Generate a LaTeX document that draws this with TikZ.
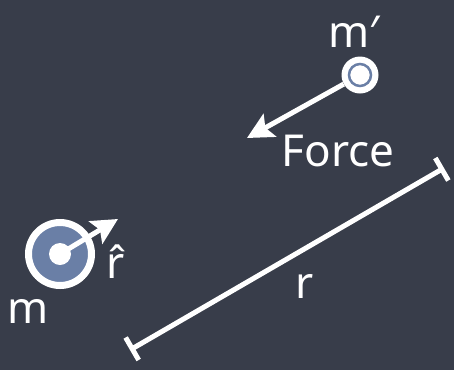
\documentclass[tikz,border=0pt]{standalone}
\usepackage{fontspec}
\setmainfont{Noto Sans}
\usetikzlibrary{arrows.meta}
\definecolor{board}{HTML}{383D4A}
\definecolor{massblue}{HTML}{6A7FA6}
\tikzset{
  lbl/.style={text=white, font=\fontsize{44}{46}\selectfont, inner sep=0pt},
  chalk/.style={draw=white, line width=5pt},
  vec/.style={chalk, -{Stealth[length=26pt, width=26pt, inset=5pt]}},
  dim/.style={chalk, {Bar[width=26pt]}-{Bar[width=26pt]}},
}
\begin{document}
\begin{tikzpicture}[x=1pt, y=-1pt]
\fill[board] (0,0) rectangle (454,370);
\useasboundingbox (0,0) rectangle (454,370);
% mass m
\node[circle, draw=white, line width=7pt, fill=massblue, minimum size=63pt, inner sep=0pt] (m) at (60,254) {};
\node[circle, fill=white, minimum size=22pt, inner sep=0pt] (mc) at (m.center) {};
\coordinate (rtip) at (118,219);
\draw[vec] (mc.center) -- (rtip);
\node[lbl] (rhat) at (116,262) {r̂};
\node[lbl] (mlab) at (28,311) {m};
% mass m'
\node[circle, fill=white, minimum size=37pt, inner sep=0pt] (mp) at (360,75) {};
\node[circle, draw=massblue, line width=2.5pt, minimum size=22pt, inner sep=0pt] (mpring) at (mp.center) {};
\node[lbl] (mplab) at (354,32) {m′};
\coordinate (ftip) at (247,138);
\draw[vec] (mp) -- (ftip);
\node[lbl] (force) at (338,151) {Force};
% distance r
\coordinate (ra) at (130,350);
\coordinate (rb) at (444,168);
\draw[dim] (ra) -- (rb);
\node[lbl] (rlab) at (305,286) {r};
\end{tikzpicture}
\end{document}
